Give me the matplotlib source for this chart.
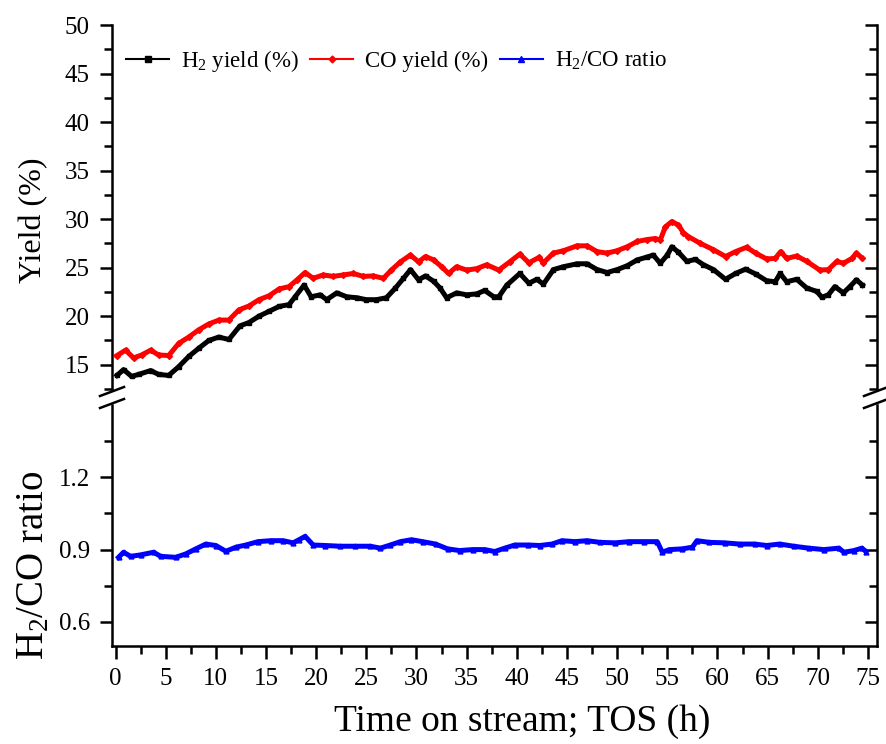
import numpy as np
import matplotlib
matplotlib.use('Agg')
import matplotlib.pyplot as plt
from matplotlib.lines import Line2D
from matplotlib.ticker import MultipleLocator

plt.rcParams['font.family'] = 'Liberation Serif'
plt.rcParams['mathtext.fontset'] = 'custom'
plt.rcParams['mathtext.rm'] = 'Liberation Serif'
plt.rcParams['mathtext.it'] = 'Liberation Serif:italic'

# H2 yield (%) vs time on stream (h)
t_h2 = [0.15, 0.8, 1.6, 2.3, 3.5, 4.3, 5.3, 6.3, 7.3, 8.3, 9.3, 10.3, 11.3, 12.4,
        13.3, 14.3, 15.3, 16.3, 17.3, 17.9, 18.8, 19.5, 20.4, 21.05, 22.05, 23.05,
        24.05, 25.0, 26.0, 27.0, 27.9, 28.7, 29.4, 30.2, 30.9, 31.7, 32.35, 33.0,
        34.0, 35.0, 36.0, 36.8, 37.7, 38.2, 39.0, 40.3, 41.2, 42.0, 42.65, 43.65,
        44.65, 46.0, 47.0, 48.0, 49.0, 50.0, 51.0, 52.0, 53.0, 53.6, 54.3, 55.0,
        55.45, 56.1, 56.95, 57.8, 58.6, 59.6, 60.8, 61.8, 62.8, 63.8, 64.9, 65.75,
        66.25, 66.9, 67.9, 68.9, 69.9, 70.4, 71.05, 71.7, 72.55, 73.2, 73.85, 74.45]
h2_yield = [13.9, 14.5, 13.8, 14.0, 14.4, 14.0, 13.9, 14.8, 15.85, 16.7, 17.5, 17.85,
            17.6, 19.0, 19.35, 20.0, 20.5, 21.0, 21.2, 22.0, 23.2, 22.0, 22.2, 21.7,
            22.4, 22.0, 21.9, 21.7, 21.7, 21.9, 22.9, 23.9, 24.8, 23.75, 24.15, 23.6,
            22.9, 21.9, 22.4, 22.2, 22.3, 22.65, 22.0, 22.0, 23.2, 24.4, 23.4, 23.8,
            23.3, 24.8, 25.1, 25.4, 25.4, 24.8, 24.5, 24.8, 25.2, 25.8, 26.1, 26.3,
            25.45, 26.3, 27.15, 26.6, 25.65, 25.85, 25.3, 24.8, 23.8, 24.4, 24.85,
            24.35, 23.65, 23.55, 24.4, 23.55, 23.8, 22.9, 22.55, 21.95, 22.2, 23.05,
            22.4, 23.05, 23.75, 23.2]

# CO yield (%)
t_co = [0.15, 1.0, 1.8, 2.6, 3.5, 4.3, 5.3, 6.3, 7.3, 8.3, 9.3, 10.3, 11.3, 12.3,
        13.3, 14.3, 15.3, 16.3, 17.3, 18.1, 18.9, 19.7, 20.7, 21.7, 22.7, 23.7, 24.7,
        25.7, 26.7, 27.5, 28.4, 29.4, 30.2, 30.9, 31.7, 32.5, 33.2, 34.0, 35.0, 36.0,
        37.0, 38.2, 39.3, 40.3, 41.2, 42.2, 42.65, 43.65, 44.65, 46.0, 47.0, 48.0,
        49.0, 50.0, 51.0, 52.0, 53.0, 53.8, 54.3, 54.8, 55.45, 56.1, 56.6, 57.1,
        58.3, 59.6, 60.8, 61.8, 62.9, 63.8, 64.9, 65.75, 66.3, 66.9, 67.9, 68.9,
        70.2, 71.05, 71.9, 72.55, 73.4, 73.85, 74.45]
co_yield = [15.95, 16.5, 15.7, 16.0, 16.5, 16.0, 15.95, 17.2, 17.85, 18.6, 19.2, 19.6,
            19.6, 20.65, 21.05, 21.7, 22.1, 22.8, 23.05, 23.75, 24.5, 23.9, 24.25,
            24.1, 24.25, 24.4, 24.1, 24.15, 23.9, 24.75, 25.6, 26.3, 25.6, 26.15, 25.8,
            25.1, 24.4, 25.1, 24.75, 24.9, 25.3, 24.75, 25.6, 26.4, 25.5, 26.05, 25.5,
            26.5, 26.75, 27.25, 27.25, 26.65, 26.5, 26.75, 27.15, 27.7, 27.9, 28.0,
            27.85, 29.2, 29.75, 29.4, 28.6, 28.2, 27.5, 26.85, 26.15, 26.65, 27.1,
            26.5, 25.9, 25.95, 26.65, 25.95, 26.2, 25.65, 24.75, 24.8, 25.65, 25.45,
            25.95, 26.5, 25.95]

# H2/CO ratio
t_ratio = [0.3, 0.8, 1.5, 2.5, 3.8, 4.5, 6.0, 7.0, 8.0, 9.0, 10.0, 11.0, 12.0, 13.0,
           14.2, 15.5, 16.7, 17.7, 18.3, 18.9, 19.7, 20.9, 22.4, 23.9, 25.4, 26.4,
           27.4, 28.4, 29.5, 30.6, 31.9, 33.1, 34.3, 35.6, 36.8, 37.8, 38.8, 39.8,
           41.1, 42.3, 43.5, 44.5, 45.8, 47.0, 48.3, 49.8, 51.2, 52.7, 54.0, 54.5,
           55.2, 56.5, 57.5, 57.95, 59.2, 60.7, 62.2, 63.7, 64.9, 66.2, 67.6, 69.1,
           70.6, 72.1, 72.6, 73.6, 74.4, 74.8]
ratio = [0.868, 0.889, 0.872, 0.878, 0.889, 0.872, 0.868, 0.882, 0.903, 0.923, 0.917,
         0.893, 0.910, 0.919, 0.933, 0.937, 0.937, 0.928, 0.941, 0.955, 0.919, 0.917,
         0.914, 0.914, 0.914, 0.906, 0.919, 0.933, 0.941, 0.933, 0.923, 0.903, 0.896,
         0.900, 0.900, 0.892, 0.906, 0.919, 0.919, 0.917, 0.923, 0.937, 0.933, 0.937,
         0.930, 0.928, 0.933, 0.933, 0.933, 0.889, 0.900, 0.903, 0.910, 0.937, 0.930,
         0.928, 0.923, 0.923, 0.917, 0.923, 0.914, 0.906, 0.900, 0.906, 0.889, 0.896,
         0.906, 0.892]

W, H = 886, 744
fig = plt.figure(figsize=(W / 100, H / 100), dpi=100)

def px_axes(left, top, right, bottom):
    return fig.add_axes([left / W, 1 - bottom / H, (right - left) / W, (bottom - top) / H])

ax1 = px_axes(112, 25, 877, 389)
ax2 = px_axes(112, 405, 877, 646)

lw = 3.6
ax1.plot(t_h2, h2_yield, color='black', lw=lw, marker='s', ms=3.5, label='H$_2$ yield (%)')
ax1.plot(t_co, co_yield, color='red', lw=lw, marker='D', ms=3, label='CO yield (%)')
ax2.plot(t_ratio, ratio, color='blue', lw=lw, marker='^', ms=3.5)

xmin, xmax = -0.35, 75.9
for ax in (ax1, ax2):
    ax.set_xlim(xmin, xmax)
    for s in ('top', 'right'):
        ax.spines[s].set_visible(False)
    ax.spines['left'].set_linewidth(1.8)
    ax.tick_params(axis='y', which='both', direction='out', width=1.8, labelsize=18, pad=7)
    ax.tick_params(axis='y', which='major', length=9)
    ax.tick_params(axis='y', which='minor', length=5.5)

ax1.spines['bottom'].set_visible(False)
ax1.tick_params(axis='x', which='both', bottom=False, labelbottom=False)
ax2.spines['top'].set_visible(False)

ax1.set_ylim(12.5, 50)
ax1.yaxis.set_minor_locator(MultipleLocator(2.5))
ax1.set_yticks([15, 20, 25, 30, 35, 40, 45, 50])

ax2.set_ylim(0.5, 1.5)
ax2.set_yticks([0.6, 0.9, 1.2])
ax2.set_yticks([0.75, 1.05, 1.35], minor=True)
ax2.spines['bottom'].set_linewidth(1.8)
ax2.xaxis.set_major_locator(MultipleLocator(5))
ax2.xaxis.set_minor_locator(MultipleLocator(2.5))
ax2.tick_params(axis='x', which='both', direction='out', width=1.8, labelsize=18, pad=7)
ax2.tick_params(axis='x', which='major', length=9)
ax2.tick_params(axis='x', which='minor', length=5.5)

# right-hand spines with inward ticks, no labels
for ax in (ax1, ax2):
    sec = ax.secondary_yaxis('right')
    sec.spines['right'].set_linewidth(1.8)
    sec.set_yticks(ax.get_yticks())
    sec.set_yticks(ax.get_yticks(minor=True), minor=True)
    sec.tick_params(which='both', direction='in', width=1.8, labelright=False)
    sec.tick_params(which='major', length=9)
    sec.tick_params(which='minor', length=5.5)

ax1.set_ylabel('Yield (%)', fontsize=23)
ax1.yaxis.set_label_coords(-0.084, 0.464)
ax2.set_ylabel('H$_2$/CO ratio', fontsize=28)
ax2.yaxis.set_label_coords(-0.078, 0.336)
fig.text(522 / W, 1 - 722 / H, 'Time on stream; TOS (h)', fontsize=27, ha='center', va='center')

handles = [Line2D([], [], color='black', lw=1.5, marker='s', ms=4),
           Line2D([], [], color='red', lw=1.5, marker='D', ms=3.5),
           Line2D([], [], color='blue', lw=1.5, marker='^', ms=4)]
labels = ['H$_2$ yield (%)', 'CO yield (%)', 'H$_2$/CO ratio']
ax1.legend(handles, labels, loc='upper left', bbox_to_anchor=(0.0, 0.975), ncol=3,
           frameon=False, fontsize=16.5, handlelength=1.9, handletextpad=0.5,
           columnspacing=0.5, borderaxespad=0.2)

# axis break marks
def slash(x0, y0, x1, y1):
    fig.add_artist(Line2D([x0 / W, x1 / W], [1 - y0 / H, 1 - y1 / H], color='black', lw=1.8))

for xc in (112, 876):
    slash(xc - 12, 396, xc + 12, 387)
    slash(xc - 12, 408, xc + 12, 399)

fig.savefig('out.png', dpi=100)
